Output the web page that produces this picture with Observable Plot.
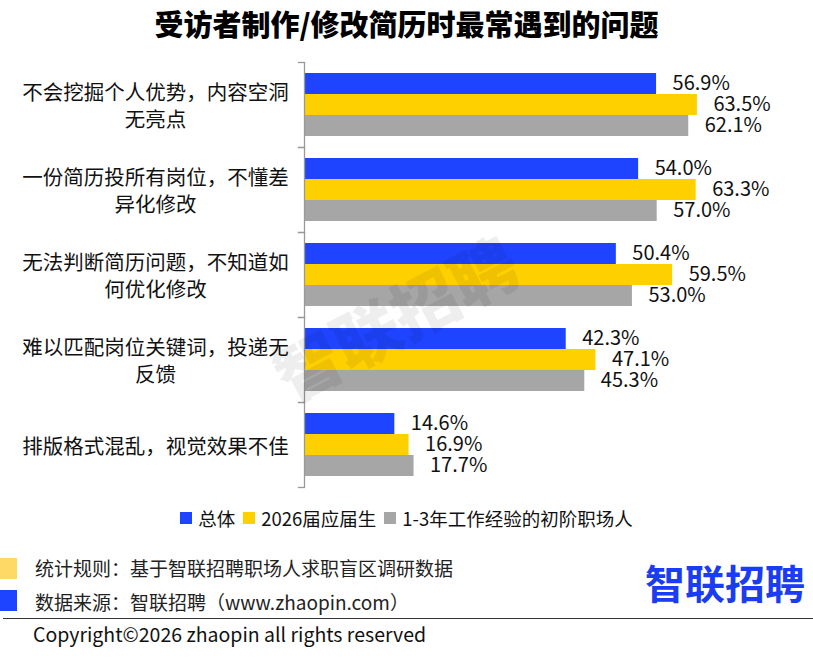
<!DOCTYPE html>
<html><head><meta charset="utf-8">
<script src="https://cdn.jsdelivr.net/npm/d3@7"></script>
<script src="https://cdn.jsdelivr.net/npm/@observablehq/plot@0.6"></script>
<style>
body{margin:0;background:#fff;font-family:"Noto Sans CJK SC","Noto Sans",sans-serif;color:#111;}
#wrap{position:relative;width:813px;height:665px;overflow:hidden;background:#fff;}
#title{position:absolute;left:0;top:3px;width:813px;text-align:center;font-size:29px;font-weight:900;line-height:40px;color:#000;}
#chart{position:absolute;left:0;top:0;}
#legend{position:absolute;left:0;top:505px;width:813px;display:flex;justify-content:center;align-items:center;font-size:18.5px;line-height:26px;color:#111;}
#legend .item{display:flex;align-items:center;margin:0 4px;}
#legend .sw{width:12px;height:12px;margin-right:6px;}
.foot{position:absolute;left:35px;font-size:19px;line-height:24px;color:#222;}
.sq{position:absolute;left:0;width:17px;height:21px;}
#rule{position:absolute;left:3px;top:618px;width:810px;height:0;border-top:1.5px solid #333;}
#copy{position:absolute;left:33px;top:621px;font-size:19.5px;line-height:26px;color:#111;}
#logo{position:absolute;left:645px;top:556px;font-size:40px;font-weight:700;color:#1a3cf2;line-height:52px;}
#wm{position:absolute;left:262px;top:268px;font-size:66px;font-weight:900;color:rgba(0,0,0,0.065);transform:rotate(-28deg);transform-origin:center;white-space:nowrap;pointer-events:none;}
</style></head><body>
<div id="wrap">
<div id="title">受访者制作/修改简历时最常遇到的问题</div>
<div id="chart"></div>
<div id="wm">智联招聘</div>
<div id="legend"></div>
<div class="sq" style="top:558px;background:#ffd966"></div>
<div class="foot" style="top:556px">统计规则：基于智联招聘职场人求职盲区调研数据</div>
<div class="sq" style="top:590px;background:#1f44ff"></div>
<div class="foot" style="top:590px">数据来源：智联招聘（www.zhaopin.com）</div>
<div id="logo">智联招聘</div>
<div id="rule"></div>
<div id="copy">Copyright©2026 zhaopin all rights reserved</div>
</div>
<script>
const categories = [
  "不会挖掘个人优势，内容空洞\n无亮点",
  "一份简历投所有岗位，不懂差\n异化修改",
  "无法判断简历问题，不知道如\n何优化修改",
  "难以匹配岗位关键词，投递无\n反馈",
  "排版格式混乱，视觉效果不佳"
];
const series = ["总体", "2026届应届生", "1-3年工作经验的初阶职场人"];
const overall = [56.9, 54.0, 50.4, 42.3, 14.6];
const grads2026 = [63.5, 63.3, 59.5, 47.1, 16.9];
const junior = [62.1, 57.0, 53.0, 45.3, 17.7];
const colors = ["#1f44ff", "#ffd000", "#a6a6a6"];

const valuesBySeries = [overall, grads2026, junior];
const rows = [];
categories.forEach((c, i) => {
  series.forEach((s, j) => rows.push({cat: c, series: s, value: valuesBySeries[j][i]}));
});

const chart = Plot.plot({
  width: 813,
  height: 500,
  marginTop: 62,
  marginBottom: 13,
  marginLeft: 304,
  marginRight: 14,
  style: {fontFamily: "'Noto Sans CJK SC', 'Noto Sans', sans-serif", background: "transparent", overflow: "visible"},
  x: {domain: [0, 80], axis: null},
  y: {domain: series, axis: null, paddingInner: 0, paddingOuter: 0.52},
  fy: {domain: categories, axis: null, padding: 0},
  color: {domain: series, range: colors},
  marks: [
    Plot.barX(rows, {fy: "cat", y: "series", x: "value", fill: "series"}),
    Plot.text(rows, {fy: "cat", y: "series", x: "value", text: d => d.value.toFixed(1) + "%",
      textAnchor: "start", dx: 16, fontSize: 20, fill: "#111"}),
    Plot.text(categories, {fy: d => d, text: d => d, frameAnchor: "left", dx: -149,
      textAnchor: "middle", fontSize: 20.5, lineHeight: 1.3, fill: "#111"}),
    Plot.ruleX([0], {stroke: "#999", strokeWidth: 1.3}),
    Plot.frame({anchor: "top", insetLeft: -6, insetRight: 495, stroke: "#999", strokeWidth: 1.3}),
    Plot.frame({anchor: "bottom", insetLeft: -6, insetRight: 495, stroke: "#999", strokeWidth: 1.3})
  ]
});
document.getElementById("chart").appendChild(chart);

const legend = document.getElementById("legend");
series.forEach((s, j) => {
  const item = document.createElement("div");
  item.className = "item";
  const sw = document.createElement("div");
  sw.className = "sw";
  sw.style.background = colors[j];
  const t = document.createElement("span");
  t.textContent = s;
  item.appendChild(sw);
  item.appendChild(t);
  legend.appendChild(item);
});
</script>
</body></html>
